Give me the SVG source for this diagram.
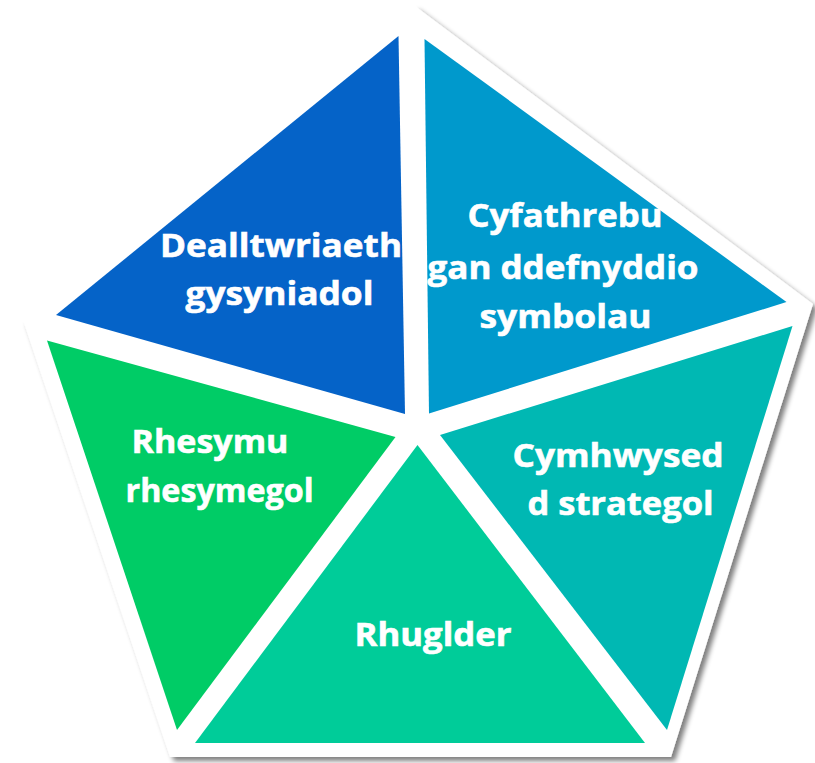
<svg xmlns="http://www.w3.org/2000/svg" width="815" height="763" viewBox="0 0 815 763">
<defs>
<filter id="shadow" x="-10%" y="-10%" width="120%" height="120%">
<feGaussianBlur in="SourceAlpha" stdDeviation="2.5"/>
<feOffset dx="4" dy="4" result="b"/>
<feComponentTransfer><feFuncA type="linear" slope="0.5"/></feComponentTransfer>
<feMerge><feMergeNode/><feMergeNode in="SourceGraphic"/></feMerge>
</filter>
</defs>
<style>
.lbl{font-family:"Open Sans","Lato","Liberation Sans",sans-serif;font-weight:700;font-size:33px;fill:#ffffff;stroke:#ffffff;stroke-width:0.6;text-anchor:middle}
</style>
<rect width="815" height="763" fill="#ffffff"/>
<g id="frame">
<polygon points="415,6 813,304 671,757 170,757 23,320" fill="#ffffff" filter="url(#shadow)"/>
</g>
<g id="node-dealltwriaeth">
<polygon points="398.5,36 56,315 405,414" fill="#0563C8"/>
<text class="lbl" x="281" y="257" textLength="242" lengthAdjust="spacingAndGlyphs">Dealltwriaeth</text>
<text class="lbl" x="279.5" y="305" textLength="188" lengthAdjust="spacingAndGlyphs">gysyniadol</text>
</g>
<g id="node-cyfathrebu">
<polygon points="424.5,39 786.5,302 429,413.5" fill="#0099CC"/>
<text class="lbl" x="565" y="226.5" textLength="195" lengthAdjust="spacingAndGlyphs">Cyfathrebu</text>
<text class="lbl" x="563" y="279" textLength="271" lengthAdjust="spacingAndGlyphs">gan ddefnyddio</text>
<text class="lbl" x="565.5" y="328" textLength="172" lengthAdjust="spacingAndGlyphs">symbolau</text>
</g>
<g id="node-cymhwysedd">
<polygon points="440,435 792.5,326 667,730" fill="#00B8B3"/>
<text class="lbl" x="618" y="467" textLength="211" lengthAdjust="spacingAndGlyphs">Cymhwysed</text>
<text class="lbl" x="620.5" y="515" textLength="186" lengthAdjust="spacingAndGlyphs">d strategol</text>
</g>
<g id="node-rhesymu">
<polygon points="47,340.5 395.5,437 177,730" fill="#00CC66"/>
<text class="lbl" x="210" y="453" textLength="157" lengthAdjust="spacingAndGlyphs">Rhesymu</text>
<text class="lbl" x="219.5" y="502" textLength="188" lengthAdjust="spacingAndGlyphs">rhesymegol</text>
</g>
<g id="node-rhuglder">
<polygon points="417.5,445 195,743 645,743" fill="#00CC99"/>
<text class="lbl" x="433" y="646" textLength="157" lengthAdjust="spacingAndGlyphs">Rhuglder</text>
</g>
<g id="connectors"/>
</svg>
